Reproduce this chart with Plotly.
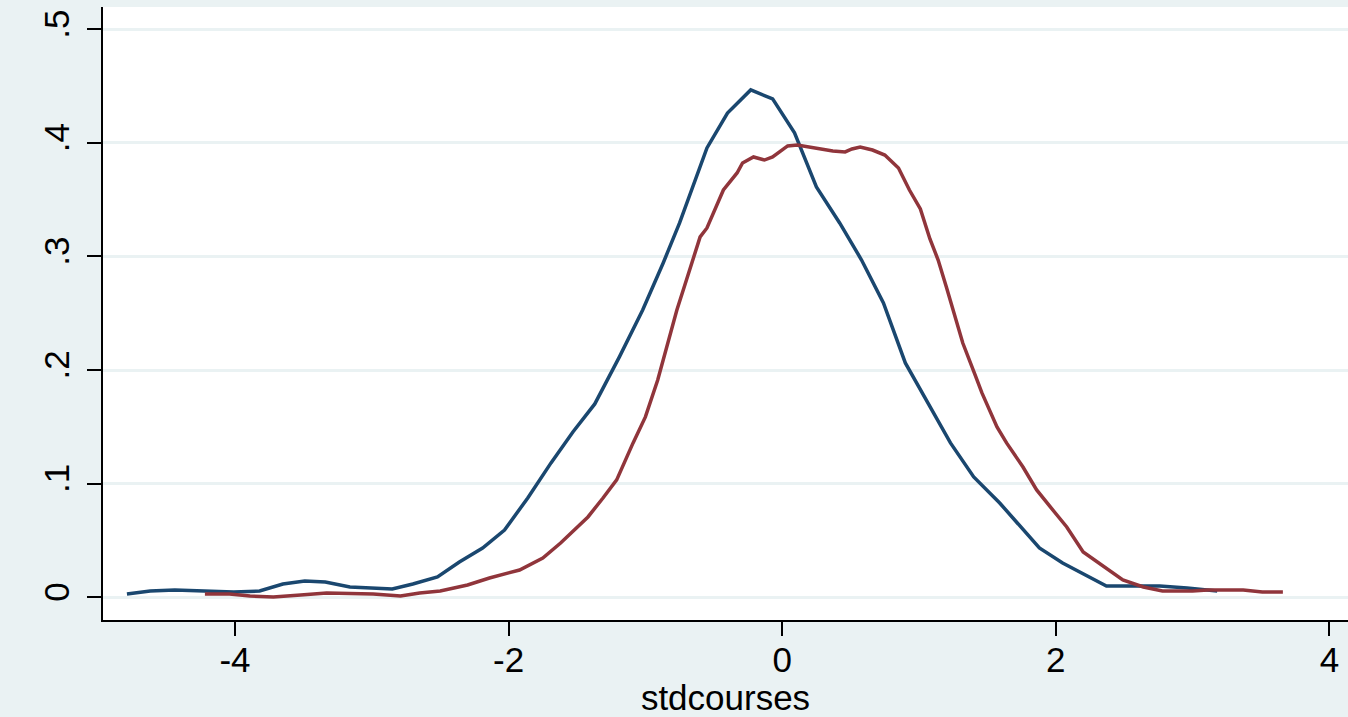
import plotly.graph_objects as go

# Blue density curve
blue_x = [-4.79, -4.62, -4.44, -4.26, -4.01, -3.82, -3.65, -3.49, -3.34, -3.16,
          -2.85, -2.70, -2.52, -2.36, -2.19, -2.03, -1.86, -1.69, -1.53, -1.37,
          -1.19, -1.02, -0.87, -0.75, -0.55, -0.40, -0.23, -0.07, 0.09, 0.25,
          0.42, 0.58, 0.74, 0.90, 1.23, 1.40, 1.59, 1.88, 2.05, 2.37,
          2.76, 2.96, 3.18]
blue_y = [0.0029, 0.0055, 0.0064, 0.0055, 0.0047, 0.0055, 0.0117, 0.0143, 0.0135, 0.0091,
          0.0073, 0.0117, 0.0179, 0.0311, 0.0434, 0.0592, 0.0874, 0.1183, 0.1455, 0.1702,
          0.2116, 0.2529, 0.2943, 0.3295, 0.3955, 0.4263, 0.4466, 0.4387, 0.4088, 0.3612,
          0.3295, 0.2969, 0.2591, 0.2063, 0.1359, 0.1059, 0.0830, 0.0434, 0.0302, 0.0099,
          0.0099, 0.0082, 0.0055]

# Red density curve
red_x = [-4.22, -4.04, -3.89, -3.72, -3.52, -3.33, -2.99, -2.79, -2.65, -2.50,
         -2.30, -2.14, -1.92, -1.75, -1.62, -1.50, -1.42, -1.31, -1.21, -1.09,
         -1.00, -0.91, -0.84, -0.77, -0.70, -0.60, -0.55, -0.43, -0.33, -0.29,
         -0.21, -0.13, -0.07, 0.04, 0.11, 0.20, 0.30, 0.37, 0.46, 0.51,
         0.57, 0.66, 0.75, 0.85, 0.93, 1.01, 1.08, 1.14, 1.20, 1.28,
         1.32, 1.41, 1.46, 1.57, 1.64, 1.76, 1.86, 1.96, 2.08, 2.20,
         2.30, 2.42, 2.49, 2.64, 2.78, 3.00, 3.11, 3.37, 3.51, 3.66]
red_y = [0.0029, 0.0029, 0.0011, 0.0003, 0.0020, 0.0038, 0.0029, 0.0011, 0.0038, 0.0055,
         0.0108, 0.0170, 0.0240, 0.0346, 0.0478, 0.0619, 0.0707, 0.0874, 0.1033, 0.1359,
         0.1588, 0.1913, 0.2221, 0.2529, 0.2793, 0.3172, 0.3251, 0.3585, 0.3735, 0.3823,
         0.3876, 0.3849, 0.3876, 0.3973, 0.3981, 0.3964, 0.3946, 0.3929, 0.3920, 0.3946,
         0.3964, 0.3937, 0.3893, 0.3779, 0.3585, 0.3418, 0.3154, 0.2969, 0.2731, 0.2414,
         0.2238, 0.1957, 0.1799, 0.1499, 0.1359, 0.1147, 0.0945, 0.0795, 0.0619, 0.0399,
         0.0311, 0.0214, 0.0152, 0.0091, 0.0055, 0.0055, 0.0064, 0.0064, 0.0047, 0.0047]

x_ticks = [-4, -2, 0, 2, 4]
x_ticktext = ["-4", "-2", "0", "2", "4"]
y_ticks = [0, 0.1, 0.2, 0.3, 0.4, 0.5]
y_ticktext = ["0", ".1", ".2", ".3", ".4", ".5"]

BG = "#eaf2f3"
FONT = "Liberation Sans, Arial, sans-serif"

fig = go.Figure()
fig.add_trace(go.Scatter(x=blue_x, y=blue_y, mode="lines",
                         line=dict(color="#1a476f", width=3.5), showlegend=False))
fig.add_trace(go.Scatter(x=red_x, y=red_y, mode="lines",
                         line=dict(color="#90353b", width=3.5), showlegend=False))

fig.update_layout(
    width=1348, height=717,
    paper_bgcolor=BG, plot_bgcolor="white",
    margin=dict(l=103, r=0, t=7, b=97, pad=0),
    font=dict(family=FONT, size=35, color="black"),
    showlegend=False,
)
fig.update_xaxes(
    range=[-4.965, 4.136], tickvals=x_ticks, ticktext=x_ticktext,
    showgrid=False, zeroline=False, automargin=False,
    showline=True, linecolor="black", linewidth=2,
    ticks="outside", ticklen=14, tickwidth=2, tickcolor="black",
    ticklabelstandoff=-6,
    title=dict(text="stdcourses", standoff=0, font=dict(size=35)),
)
fig.update_yaxes(
    range=[-0.020, 0.5196], tickvals=y_ticks, ticktext=y_ticktext,
    showgrid=True, gridcolor=BG, gridwidth=3, zeroline=False, automargin=False,
    showline=True, linecolor="black", linewidth=2,
    ticks="outside", ticklen=14, tickwidth=2, tickcolor="black",
    tickangle=-90, ticklabelstandoff=4,
)

fig.write_html(
    "out.html",
    config={"displayModeBar": False},
    post_script="document.body.style.margin='0';document.body.style.background='#eaf2f3';",
)
